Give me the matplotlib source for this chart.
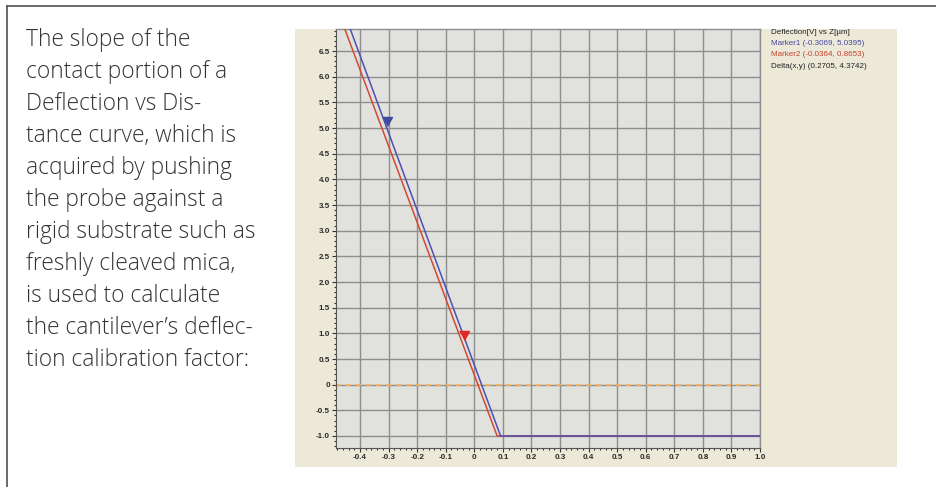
import matplotlib.pyplot as plt
from matplotlib.patches import Rectangle
from matplotlib.lines import Line2D
import numpy as np

plt.rcParams['axes.unicode_minus'] = False

# curve data (Z in um, deflection in V)
z_red = [-0.47, 0.080, 1.0]
defl_red = [7.18, -1.0, -1.0]
z_blue = [-0.46, 0.092, 1.0]
defl_blue = [7.32, -1.0, -1.0]

marker1 = (-0.3069, 5.0395)
marker2 = (-0.0364, 0.8653)

x_ticks = [-0.4, -0.3, -0.2, -0.1, 0.0, 0.1, 0.2, 0.3, 0.4, 0.5, 0.6, 0.7, 0.8, 0.9, 1.0]
x_labels = ['-0.4', '-0.3', '-0.2', '-0.1', '0', '0.1', '0.2', '0.3', '0.4',
            '0.5', '0.6', '0.7', '0.8', '0.9', '1.0']
y_ticks = [-1.0, -0.5, 0.0, 0.5, 1.0, 1.5, 2.0, 2.5, 3.0, 3.5, 4.0, 4.5, 5.0, 5.5, 6.0, 6.5]
y_labels = ['-1.0', '-0.5', '0', '0.5', '1.0', '1.5', '2.0', '2.5', '3.0', '3.5',
            '4.0', '4.5', '5.0', '5.5', '6.0', '6.5']

legend_lines = ['Deflection[V] vs Z[\u00b5m]',
                'Marker1 (-0.3069, 5.0395)',
                'Marker2 (-0.0364, 0.8653)',
                'Delta(x,y) (0.2705, 4.3742)']
legend_colors = ['#222222', '#4848a0', '#c8402c', '#222222']

body_lines = ['The slope of the',
              'contact portion of a',
              'Deflection vs Dis-',
              'tance curve, which is',
              'acquired by pushing',
              'the probe against a',
              'rigid substrate such as',
              'freshly cleaved mica,',
              'is used to calculate',
              'the cantilever\u2019s deflec-',
              'tion calibration factor:']

W, H = 936, 487
fig = plt.figure(figsize=(W / 100, H / 100), dpi=100)


def fx(px):
    return px / W


def fy(py):
    return 1 - py / H


# page frame (top and left rules)
fig.add_artist(Line2D([fx(7), 1], [fy(6), fy(6)], color='#505050', lw=1.2,
                      transform=fig.transFigure))
fig.add_artist(Line2D([fx(7), fx(7)], [fy(6), 0], color='#505050', lw=1.2,
                      transform=fig.transFigure))

# beige window panel behind the plot
fig.add_artist(Rectangle((fx(295), fy(467)), fx(897) - fx(295), fy(29) - fy(467),
                         facecolor='#ece9d8', edgecolor='none',
                         transform=fig.transFigure, zorder=-1))

# body text
for i, line in enumerate(body_lines):
    fig.text(fx(26), fy(40 + 32 * i), line, fontsize=16.4, family='Open Sans',
             weight='light', color='#333333', va='center', ha='left')

ax = fig.add_axes([fx(336), fy(448), fx(760) - fx(336), fy(29) - fy(448)])
ax.set_facecolor('#e1e1dd')

ax.plot(z_red, defl_red, color='#d04a34', lw=1.1, zorder=3)
ax.plot(z_blue, defl_blue, color='#5050b0', lw=1.1, zorder=4)
ax.axhline(0, color='#f2b060', lw=1.2, ls=(0, (3, 3)), zorder=2)

tip = [(-0.6, 1.1), (0.6, 1.1), (0, 0)]
ax.plot(*marker1, marker=tip, markersize=13, color='#3c4ca0', zorder=5)
ax.plot(*marker2, marker=tip, markersize=13, color='#e02828', zorder=5)

ax.set_xlim(-0.484, 1.0)
ax.set_ylim(-1.234, 6.93)
ax.set_xticks(x_ticks, x_labels)
ax.set_yticks(y_ticks, y_labels)
ax.set_xticks(np.arange(-0.48, 1.001, 0.02), minor=True)
ax.set_yticks(np.arange(-1.2, 6.91, 0.1), minor=True)
ax.grid(True, which='major', color='#8e8e8e', lw=1.0, zorder=1)
ax.set_axisbelow(True)
ax.tick_params(which='major', direction='out', length=3, width=0.8, color='#333333',
               labelsize=5.8, labelcolor='#2a2a2a', pad=1.5)
ax.tick_params(which='minor', direction='out', length=1.6, width=0.8, color='#333333')
for lab in ax.get_xticklabels() + ax.get_yticklabels():
    lab.set_family('Liberation Sans')
    lab.set_weight('bold')

for side in ['top', 'right']:
    ax.spines[side].set_color('#8e8e8e')
    ax.spines[side].set_linewidth(1.0)
for side in ['left', 'bottom']:
    ax.spines[side].set_color('#555555')
    ax.spines[side].set_linewidth(0.8)

# marker readout legend
for i, (line, col) in enumerate(zip(legend_lines, legend_colors)):
    fig.text(fx(771), fy(32 + 11.5 * i), line, fontsize=5.8, family='Liberation Sans',
             color=col, va='center', ha='left')

fig.savefig('out.png', dpi=100)
